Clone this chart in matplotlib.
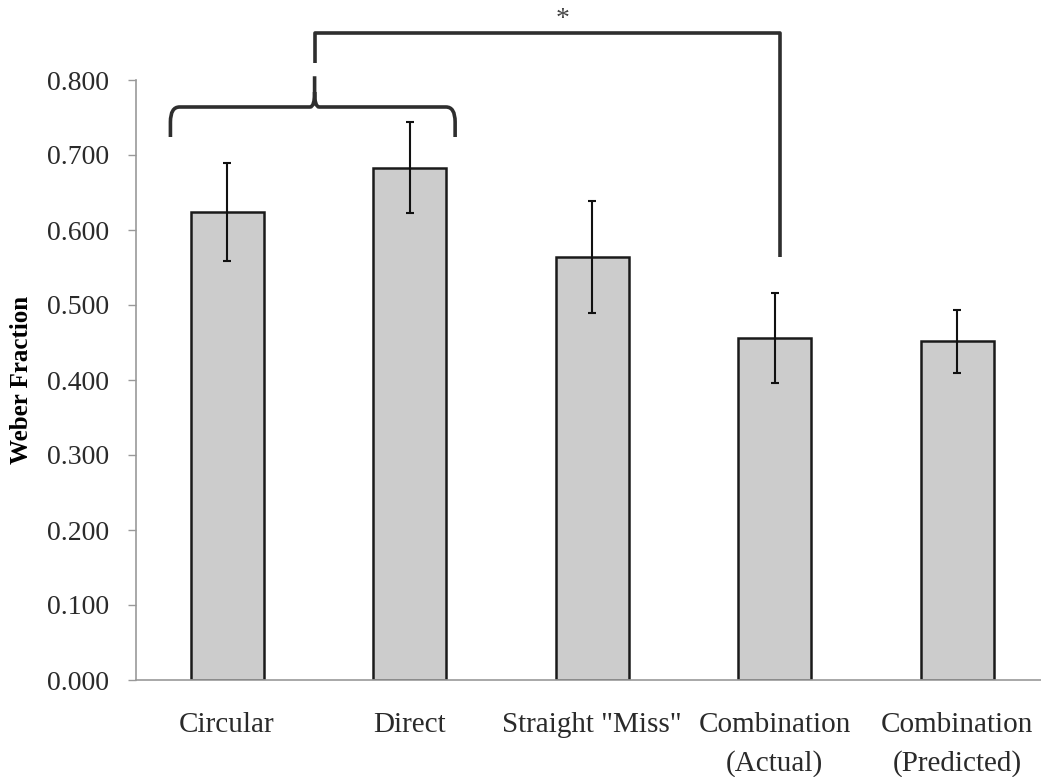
import matplotlib
matplotlib.use("Agg")
import matplotlib.pyplot as plt
from matplotlib.path import Path
from matplotlib.patches import PathPatch

categories = ["Circular", "Direct", "Straight \"Miss\"", "Combination\n(Actual)", "Combination\n(Predicted)"]
values = [0.624, 0.683, 0.564, 0.456, 0.452]
errors = [0.065, 0.061, 0.075, 0.060, 0.042]
yticks = [0.0, 0.1, 0.2, 0.3, 0.4, 0.5, 0.6, 0.7, 0.8]

plt.rcParams['font.family'] = ['Liberation Serif', 'DejaVu Serif']

W, H = 1041, 777
fig = plt.figure(figsize=(W / 100, H / 100), dpi=100)
ax = fig.add_axes([135.75 / W, 1 - 680 / H, 912.5 / W, 600 / H])

x = list(range(len(categories)))
ax.bar(x, values, width=0.4, color="#cccccc", edgecolor="#1a1a1a", linewidth=1.8, zorder=2)
ax.errorbar(x, values, yerr=errors, fmt="none", ecolor="#111111", elinewidth=1.5,
            capsize=3, capthick=1.5, zorder=3)

ax.set_xlim(-0.5, len(categories) - 0.5)
ax.set_ylim(0, 0.8)
ax.set_yticks(yticks)
ax.set_yticklabels([f"{v:.3f}" for v in yticks], fontsize=20, color="#2a2a2a")
ax.set_xticks(x)
ax.set_xticklabels(categories, fontsize=21, color="#2a2a2a", linespacing=1.6)
ax.tick_params(axis="x", length=0, pad=23)
ax.tick_params(axis="y", direction="out", length=6, width=1, color="#999999", pad=13)
for s in ["top", "right"]:
    ax.spines[s].set_visible(False)
for s in ["left", "bottom"]:
    ax.spines[s].set_color("#999999")
    ax.spines[s].set_linewidth(1.2)
ax.set_ylabel("Weber Fraction", fontsize=18, fontweight="bold", labelpad=10)

# curly brace over Circular and Direct
x0, xc, x1 = -0.31, 0.48, 1.25
ye, yh, ys = 0.724, 0.764, 0.805
dx, dy = 0.05, 0.02
verts = [
    (x0, ye), (x0, yh - dy), (x0, yh), (x0 + dx, yh),
    (xc - dx * 0.5, yh), (xc, yh), (xc, yh + dy),
    (xc, ys),
    (xc, yh + dy), (xc, yh), (xc + dx * 0.5, yh),
    (x1 - dx, yh), (x1, yh), (x1, yh - dy), (x1, ye),
]
codes = [Path.MOVETO, Path.LINETO, Path.CURVE3, Path.CURVE3,
         Path.LINETO, Path.CURVE3, Path.CURVE3,
         Path.LINETO,
         Path.MOVETO, Path.CURVE3, Path.CURVE3,
         Path.LINETO, Path.CURVE3, Path.CURVE3, Path.LINETO]
brace = PathPatch(Path(verts, codes), facecolor="none", edgecolor="#2e2e2e",
                  linewidth=2.6, clip_on=False, zorder=4)
ax.add_patch(brace)

# significance bracket
ax.plot([xc, xc, 3.03, 3.03], [0.823, 0.863, 0.863, 0.564], color="#2e2e2e",
        linewidth=2.6, clip_on=False, solid_capstyle="butt", zorder=4)
ax.text(1.84, 0.881, "*", ha="center", va="center", fontsize=20, color="#444444")

fig.savefig("out.png", dpi=100)
